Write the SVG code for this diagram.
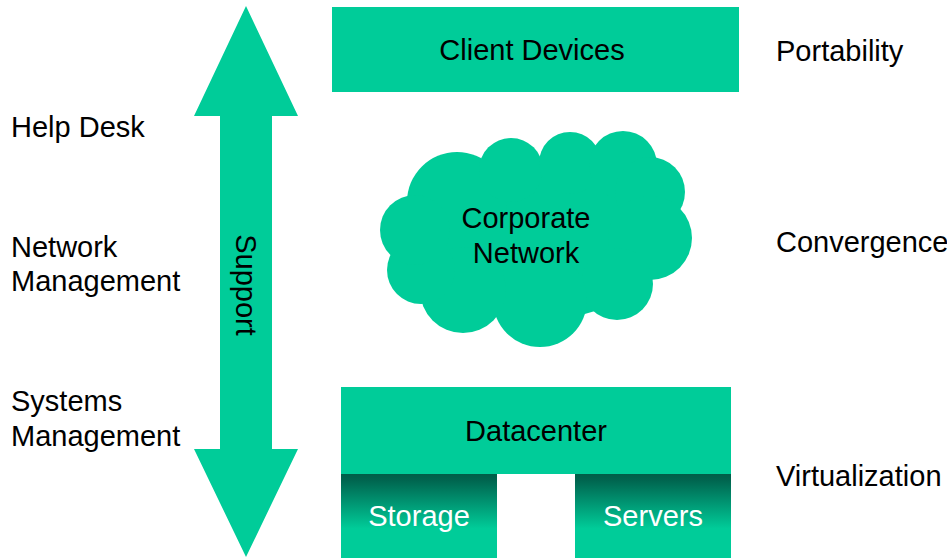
<svg xmlns="http://www.w3.org/2000/svg" width="947" height="558" viewBox="0 0 947 558">
  <style>
    .fill { fill: #00CC99; }
    .lbl { font-family: "Liberation Sans", Arial, sans-serif; font-size: 29px; fill: #000; }
    .mid { text-anchor: middle; }
    .wht { fill: #FFFFFF; }
  </style>
  <defs>
    <linearGradient id="subGrad" x1="0" y1="0" x2="0" y2="1">
      <stop offset="0" stop-color="#005E48"/>
      <stop offset="0.08" stop-color="#006650"/>
      <stop offset="0.65" stop-color="#00CC99"/>
      <stop offset="1" stop-color="#00CC99"/>
    </linearGradient>
  </defs>
  <rect width="947" height="558" fill="#FFFFFF"/>

  <!-- double-headed support arrow -->
  <g id="support">
    <polygon class="fill" points="246,6 298,116 272,116 272,449 298,449 246,557 194,449 220,449 220,116 194,116"/>
    <text class="lbl" transform="translate(236,285) rotate(90)" text-anchor="middle">Support</text>
  </g>

  <g id="client-devices">
    <rect class="fill" x="332" y="7" width="407" height="85"/>
    <text class="lbl mid" x="532" y="60">Client Devices</text>
  </g>

  <g id="corporate-network">
    <g class="fill">
      <ellipse cx="535" cy="240" rx="130" ry="80"/>
      <circle cx="457" cy="202" r="50"/>
      <circle cx="511" cy="170" r="32"/>
      <circle cx="570" cy="163" r="31"/>
      <circle cx="623" cy="165" r="34"/>
      <circle cx="650" cy="192" r="35"/>
      <circle cx="650" cy="238" r="42"/>
      <circle cx="617" cy="284" r="36"/>
      <circle cx="540" cy="300" r="47"/>
      <circle cx="463" cy="290" r="43"/>
      <circle cx="421" cy="270" r="34"/>
      <circle cx="415" cy="230" r="35"/>
    </g>
    <text class="lbl mid" x="526" y="228">Corporate</text>
    <text class="lbl mid" x="526" y="263">Network</text>
  </g>

  <g id="datacenter">
    <rect class="fill" x="341" y="387" width="390" height="87"/>
    <text class="lbl mid" x="536" y="441">Datacenter</text>
  </g>

  <g id="storage">
    <rect x="341" y="474" width="156" height="84" fill="url(#subGrad)"/>
    <text class="lbl mid wht" x="419" y="526">Storage</text>
  </g>

  <g id="servers">
    <rect x="575" y="474" width="156" height="84" fill="url(#subGrad)"/>
    <text class="lbl mid wht" x="653" y="526">Servers</text>
  </g>

  <g id="side-labels">
    <text class="lbl" x="11" y="137">Help Desk</text>
    <text class="lbl" x="11" y="257">Network</text>
    <text class="lbl" x="11" y="291">Management</text>
    <text class="lbl" x="11" y="411">Systems</text>
    <text class="lbl" x="11" y="446">Management</text>
    <text class="lbl" x="776" y="61">Portability</text>
    <text class="lbl" x="776" y="252">Convergence</text>
    <text class="lbl" x="776" y="486">Virtualization</text>
  </g>
</svg>
